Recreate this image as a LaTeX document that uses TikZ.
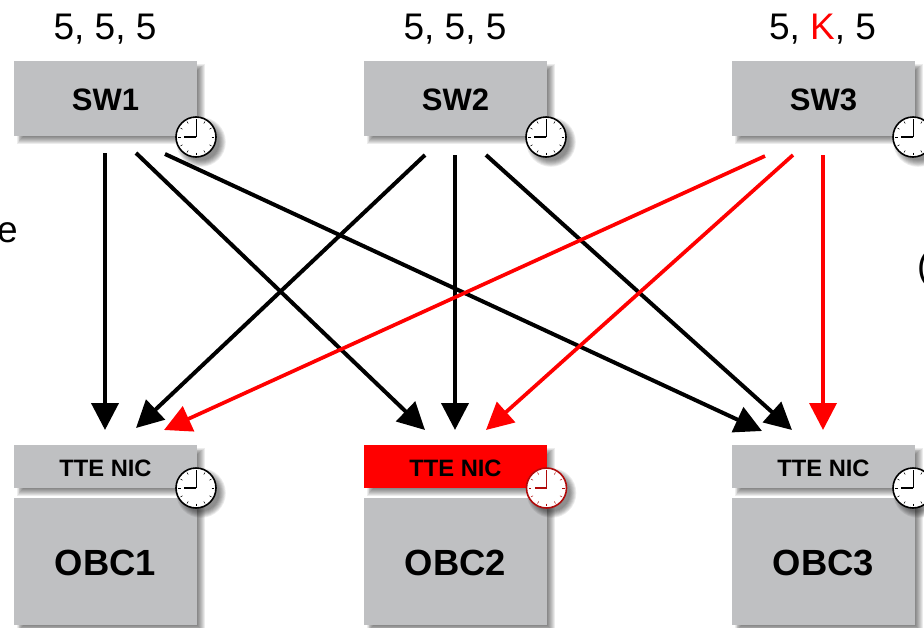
\documentclass[tikz,border=0pt]{standalone}
\usepackage{fontspec}
\setmainfont{Liberation Sans}
\usetikzlibrary{arrows.meta,calc}
\definecolor{boxgrey}{HTML}{BFC0C2}
\definecolor{clockred}{HTML}{B00A0A}
\newcommand{\lowered}[1]{\raisebox{-1.8pt}[\height][\depth]{#1}}
\tikzset{
  greybox/.style={draw=none,fill=boxgrey,inner sep=0pt,outer sep=0pt,anchor=north west},
  swbox/.style={greybox,minimum width=183pt,minimum height=75pt,font=\fontsize{31}{31}\selectfont\bfseries},
  nicbox/.style={greybox,minimum width=183pt,minimum height=43pt,font=\fontsize{23.7}{24}\selectfont\bfseries},
  obcbox/.style={greybox,minimum width=183pt,minimum height=127pt,font=\fontsize{36.4}{37}\selectfont\bfseries},
  toplabel/.style={font=\fontsize{37}{37}\selectfont,anchor=base,inner sep=0pt},
  edgetext/.style={font=\fontsize{37}{37}\selectfont,anchor=base,inner sep=0pt},
  link/.style={line width=4pt,-{Triangle[length=27pt,width=27pt]}},
  redlink/.style={line width=3.7pt,red,-{Triangle[length=27pt,width=27pt]}},
  clockface/.style={circle,fill=white,draw=#1,line width=1.6pt,minimum size=40pt,inner sep=0pt},
}
% soft shadow behind a box: x0,y0,x1,y1
\newcommand{\softshadow}[4]{%
  \foreach \k in {0,...,7}{%
    \fill[black,opacity=0.075]
      ({#1+9-\k*0.9},{#2+9-\k*0.9}) rectangle ({#3+1+\k*0.95},{#4+1+\k*0.95});
  }%
}
% clock: name, x, y, colour
\newcommand{\clockat}[4]{%
  \foreach \k in {0,...,7}{%
    \fill[black,opacity=0.07] ({#2+5},{#3+5}) circle ({18.5+\k*0.9});
  }%
  \node[clockface=#4] (#1) at (#2,#3) {};
  \foreach \a in {0,30,...,330}{%
    \draw[#4,line width=0.5pt] ($(#1)+(\a:15.5)$) -- ($(#1)+(\a:18)$);
  }%
  \draw[#4,line width=0.7pt] (#1.center) -- ++(0,-15);
  \draw[#4,line width=1.5pt] (#1.center) -- ++(-12,0);
}
\begin{document}
\begin{tikzpicture}[x=1pt,y=-1pt]
\useasboundingbox (0,0) rectangle (924,627);
\clip (0,0) rectangle (924,627);
% shadows
\softshadow{14}{61}{197}{136}
\softshadow{364}{61}{547}{136}
\softshadow{732}{61}{915}{136}
\softshadow{14}{445}{197}{488}
\softshadow{364}{445}{547}{488}
\softshadow{732}{445}{915}{488}
\softshadow{14}{498}{197}{625}
\softshadow{364}{498}{547}{625}
\softshadow{732}{498}{915}{625}
% boxes
\node[swbox] (sw1) at (14,61) {\lowered{SW1}};
\node[swbox] (sw2) at (364,61) {\lowered{SW2}};
\node[swbox] (sw3) at (732,61) {\lowered{SW3}};
\node[obcbox] (obc1) at (14,498) {\lowered{OBC1}};
\node[obcbox] (obc2) at (364,498) {\lowered{OBC2}};
\node[obcbox] (obc3) at (732,498) {\lowered{OBC3}};
\node[nicbox] (nic1) at (14,445) {\lowered{TTE NIC}};
\node[nicbox,fill=red] (nic2) at (364,445) {\lowered{TTE NIC}};
\node[nicbox] (nic3) at (732,445) {\lowered{TTE NIC}};
% clocks
\clockat{c1}{196}{137}{black}
\clockat{c2}{546}{137}{black}
\clockat{c3}{913}{137}{black}
\clockat{c4}{196}{488}{black}
\clockat{c5}{546.5}{488}{clockred}
\clockat{c6}{913}{488}{black}
% labels
\node[toplabel] (l1) at (105,39) {5, 5, 5};
\node[toplabel] (l2) at (455,39) {5, 5, 5};
\node[toplabel] (l3) at (822.5,39) {5, \textcolor{red}{K}, 5};
\node[edgetext,anchor=base east] (e) at (18,242) {e};
\node[edgetext,anchor=base west] (p) at (917,278) {(};
% connector ends
\coordinate (a1) at (105,153); \coordinate (a1e) at (105,430);
\coordinate (a2) at (136,153); \coordinate (a2e) at (425,430);
\coordinate (a3) at (165,154); \coordinate (a3e) at (762,431);
\coordinate (b1) at (425,155); \coordinate (b1e) at (136,428);
\coordinate (b2) at (455,155); \coordinate (b2e) at (455,430);
\coordinate (b3) at (486,155); \coordinate (b3e) at (792,430);
\coordinate (d1) at (765,156); \coordinate (d1e) at (164,430);
\coordinate (d2) at (793,155); \coordinate (d2e) at (486,430);
\coordinate (d3) at (823,155); \coordinate (d3e) at (823,430);
\draw[link] (a1) -- (a1e);
\draw[link] (a2) -- (a2e);
\draw[link] (a3) -- (a3e);
\draw[link] (b1) -- (b1e);
\draw[link] (b2) -- (b2e);
\draw[link] (b3) -- (b3e);
\draw[redlink] (d1) -- (d1e);
\draw[redlink] (d2) -- (d2e);
\draw[redlink] (d3) -- (d3e);
\end{tikzpicture}
\end{document}
